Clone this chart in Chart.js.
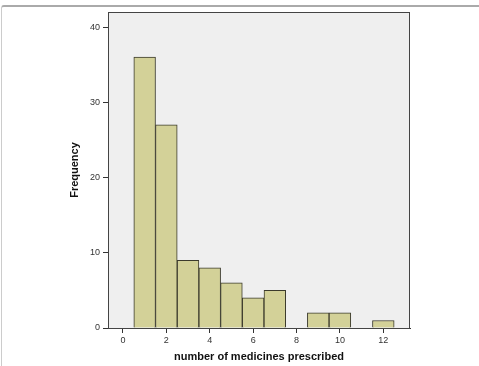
<!DOCTYPE html>
<html>
<head>
<meta charset="utf-8">
<script src="https://cdn.jsdelivr.net/npm/chart.js@4/dist/chart.umd.min.js"></script>
<style>
    body { margin: 0; background: #fff; }
    #wrap { position: relative; width: 479px; height: 366px; }
    #frame {
        position: absolute; left: 1px; top: 5px; right: 0; bottom: 0;
        border-top: 2px solid #aaa; border-left: 1px solid #ccc;
        border-top-left-radius: 3px;
    }
    #chart { position: absolute; left: 0; top: 0; }
</style>
</head>
<body>
<div id="wrap">
    <div id="frame"></div>
    <canvas id="chart" width="479" height="366"></canvas>
</div>
<script>
// Histogram: number of medicines prescribed
const medicineCounts = [1, 2, 3, 4, 5, 6, 7, 8, 9, 10, 11, 12];
const frequencies = [36, 27, 9, 8, 6, 4, 5, 0, 2, 2, 0, 1];
const xTicks = [0, 2, 4, 6, 8, 10, 12];
const yTicks = [0, 10, 20, 30, 40];

const FONT = "'Liberation Sans', Arial, sans-serif";

// Grey plot background plus the frame around it
const plotFrame = {
    id: 'plotFrame',
    beforeDraw(chart) {
        const { ctx, chartArea: a } = chart;
        ctx.save();
        ctx.fillStyle = '#efefef';
        ctx.fillRect(a.left, a.top, a.right - a.left, a.bottom - a.top);
        ctx.restore();
    },
    afterDraw(chart) {
        const { ctx, chartArea: a } = chart;
        ctx.save();
        ctx.strokeStyle = '#444';
        ctx.lineWidth = 1;
        ctx.strokeRect(a.left + 0.5, a.top + 0.5, a.right - a.left - 1, a.bottom - a.top);
        ctx.restore();
    }
};

new Chart(document.getElementById('chart'), {
    type: 'bar',
    data: {
        datasets: [{
            data: medicineCounts.map((m, i) => ({ x: m, y: frequencies[i] })),
            backgroundColor: '#d3d198',
            borderColor: '#3b3a2c',
            borderWidth: 1,
            barPercentage: 1,
            categoryPercentage: 1
        }]
    },
    plugins: [plotFrame],
    options: {
        responsive: false,
        animation: false,
        layout: { padding: { left: 0, right: 69, top: 12, bottom: 0 } },
        plugins: { legend: { display: false }, tooltip: { enabled: false } },
        scales: {
            x: {
                type: 'linear',
                min: -0.69,
                max: 13.23,
                offset: false,
                afterBuildTicks: s => { s.ticks = xTicks.map(v => ({ value: v })); },
                afterFit: s => { s.height = 38; },
                grid: { offset: false, drawOnChartArea: false, drawTicks: true, tickLength: 5, color: '#333' },
                border: { color: '#333' },
                ticks: { color: '#333', font: { family: FONT, size: 9 }, padding: 2, maxRotation: 0 },
                title: {
                    display: true,
                    text: 'number of medicines prescribed',
                    color: '#111',
                    font: { family: FONT, size: 11, weight: 'bold' },
                    padding: { top: 0, bottom: 2 }
                }
            },
            y: {
                min: 0,
                max: 42,
                afterBuildTicks: s => { s.ticks = yTicks.map(v => ({ value: v })); },
                afterFit: s => { s.width = 108; },
                grid: { drawOnChartArea: false, drawTicks: true, tickLength: 5, color: '#333' },
                border: { color: '#333' },
                ticks: { color: '#333', font: { family: FONT, size: 9 }, padding: 3 },
                title: {
                    display: true,
                    text: 'Frequency',
                    color: '#111',
                    font: { family: FONT, size: 11, weight: 'bold' },
                    padding: { top: 68, bottom: 0 }
                }
            }
        }
    }
});
</script>
</body>
</html>
